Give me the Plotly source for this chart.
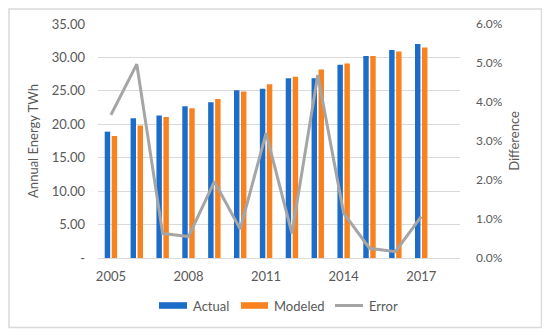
import plotly.graph_objects as go

years = ["2005", "2006", "2007", "2008", "2009", "2010", "2011", "2012", "2013", "2014", "2015", "2016", "2017"]
actual = [18.9, 20.9, 21.3, 22.7, 23.3, 25.1, 25.3, 26.9, 26.9, 28.9, 30.2, 31.1, 32.0]
modeled = [18.25, 19.8, 21.1, 22.4, 23.8, 24.9, 26.0, 27.1, 28.2, 29.1, 30.2, 30.9, 31.5]
error = [0.0367, 0.0497, 0.0063, 0.0055, 0.0196, 0.0074, 0.032, 0.0063, 0.0469, 0.0115, 0.0025, 0.0016, 0.0106]

left_vals = [0, 5, 10, 15, 20, 25, 30, 35]
left_text = ["-", "5.00", "10.00", "15.00", "20.00", "25.00", "30.00", "35.00"]
right_vals = [0, 0.01, 0.02, 0.03, 0.04, 0.05, 0.06]
right_text = ["0.0%", "1.0%", "2.0%", "3.0%", "4.0%", "5.0%", "6.0%"]
x_ticks = ["2005", "2008", "2011", "2014", "2017"]
series_names = ["Actual", "Modeled", "Error"]
series_colors = ["#1C6DC9", "#F7821F", "#A5A5A5"]

FONT = "Lato, Open Sans, sans-serif"
TXT = "#595959"

fig = go.Figure()
fig.add_trace(go.Bar(x=years, y=actual, name=series_names[0],
                     marker=dict(color=series_colors[0], line=dict(width=0))))
fig.add_trace(go.Bar(x=years, y=modeled, name=series_names[1],
                     marker=dict(color=series_colors[1], line=dict(width=0))))
fig.add_trace(go.Scatter(x=years, y=error, name=series_names[2], mode="lines", yaxis="y2",
                         line=dict(color=series_colors[2], width=3)))

# page has an 8px body margin; figure is sized to fit the 550x336 window
OFF = 8
W, H = 550 - OFF, 336 - OFF
# plot area in page pixels: x 98..460, y 24..258
l, t = 98 - OFF, 24 - OFF
r = W - (460 - OFF)
b = H - (258 - OFF)
pw = W - l - r
ph = H - t - b


def px(x):
    return (x - OFF - l) / pw


def py(y):
    return (H - b - (y - OFF)) / ph


shapes = [dict(type="rect", xref="paper", yref="paper",
               x0=px(9), x1=px(541.5), y0=py(327.5), y1=py(9),
               line=dict(color="#D9D9D9", width=1.5), layer="above")]
annotations = []
# manual legend (wide swatches like the reference)
leg = [(159, 187, 191), (241, 268, 272), (335, 363, 367)]
ly = 305.5
for i, (a, bb, tx) in enumerate(leg):
    if i < 2:
        shapes.append(dict(type="rect", xref="paper", yref="paper",
                           x0=px(a), x1=px(bb), y0=py(ly + 3.3), y1=py(ly - 3.3),
                           fillcolor=series_colors[i], line=dict(width=0), layer="above"))
    else:
        shapes.append(dict(type="line", xref="paper", yref="paper",
                           x0=px(a), x1=px(bb), y0=py(ly), y1=py(ly),
                           line=dict(color=series_colors[i], width=3), layer="above"))
    annotations.append(dict(text=series_names[i], xref="paper", yref="paper",
                            x=px(tx), y=py(ly), xanchor="left", yanchor="middle",
                            showarrow=False, font=dict(size=13, color=TXT)))

fig.update_layout(
    width=W, height=H,
    margin=dict(l=l, r=r, t=t, b=b, autoexpand=False),
    paper_bgcolor="white", plot_bgcolor="white",
    font=dict(family=FONT, size=12, color=TXT),
    barmode="group", bargap=0.46, bargroupgap=0.22,
    showlegend=False,
    xaxis=dict(type="category", range=[-0.5, 13.5], tickvals=x_ticks, ticktext=x_ticks,
               showgrid=False, automargin=False,
               showline=True, linecolor="#D9D9D9", linewidth=1, ticks="",
               ticklabelstandoff=6, tickfont=dict(size=13, color=TXT)),
    yaxis=dict(range=[0, 35], tickvals=left_vals, ticktext=left_text, automargin=False,
               showgrid=True, gridcolor="#D9D9D9", gridwidth=1, zeroline=False,
               title=dict(text="Annual Energy TWh", font=dict(size=13, color=TXT), standoff=10),
               tickfont=dict(size=13, color=TXT), ticks="", ticklabelstandoff=12),
    yaxis2=dict(range=[0, 0.06], tickvals=right_vals, ticktext=right_text, overlaying="y",
                side="right", showgrid=False, zeroline=False, automargin=False,
                title=dict(text="Difference", font=dict(size=13, color=TXT), standoff=8),
                tickfont=dict(size=12, color=TXT), ticks="", ticklabelstandoff=15),
    shapes=shapes,
    annotations=annotations,
)

fig.write_html("out.html")
